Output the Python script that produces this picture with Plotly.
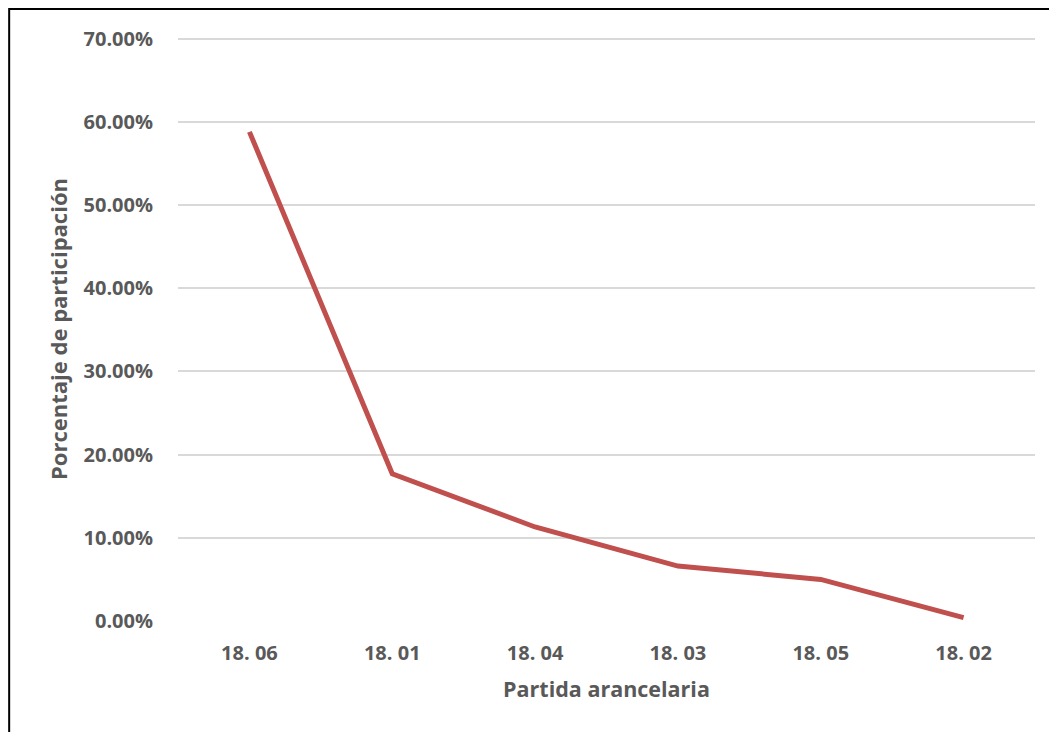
import plotly.graph_objects as go

categories = ["18. 06", "18. 01", "18. 04", "18. 03", "18. 05", "18. 02"]
values = [0.588, 0.177, 0.113, 0.066, 0.050, 0.004]
y_ticks = [0, 0.1, 0.2, 0.3, 0.4, 0.5, 0.6, 0.7]
y_tick_labels = ["0.00%", "10.00%", "20.00%", "30.00%", "40.00%", "50.00%", "60.00%", "70.00%"]

FONT = "Open Sans"
TXT = "#595959"

fig = go.Figure()
fig.add_trace(go.Scatter(
    x=categories, y=values, mode="lines",
    line=dict(color="#C0504D", width=5),
    showlegend=False, hoverinfo="skip",
))

fig.update_layout(
    width=1049, height=724,
    margin=dict(l=170, r=22, t=29, b=111),
    paper_bgcolor="white", plot_bgcolor="white",
    font=dict(family=FONT, color=TXT),
    xaxis=dict(
        type="category", range=[-0.5, 5.5],
        showgrid=False, zeroline=False, showline=False,
        tickfont=dict(family=FONT, size=20, color=TXT, weight="bold"),
        ticks="", ticklabelstandoff=18,
        title=dict(text="<b>Partida arancelaria</b>", font=dict(family=FONT, size=21.5, color=TXT), standoff=16),
    ),
    yaxis=dict(
        range=[0, 0.702], tickvals=y_ticks, ticktext=y_tick_labels,
        showgrid=True, gridcolor="#D9D9D9", gridwidth=1.5,
        zeroline=False, showline=False, ticks="",
        tickfont=dict(family=FONT, size=20, color=TXT, weight="bold"),
        ticklabelstandoff=24,
        title=dict(text="<b>Porcentaje de participación</b>", font=dict(family=FONT, size=22, color=TXT), standoff=9),
    ),
    shapes=[dict(
        type="rect", xref="paper", yref="paper",
        x0=-0.197, x1=1.2, y0=-0.4, y1=1.048,
        line=dict(color="black", width=2), fillcolor="rgba(0,0,0,0)", layer="above",
    )],
)

fig.write_html("out.html")
